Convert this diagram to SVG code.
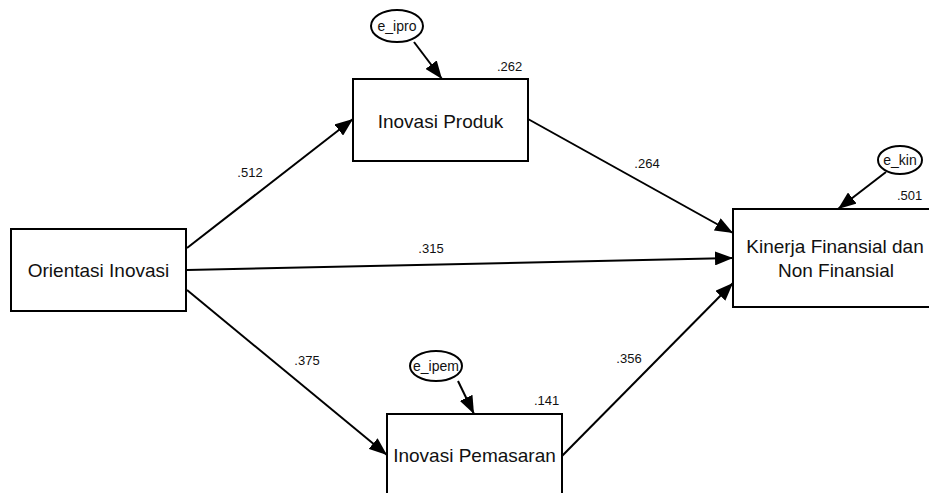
<svg xmlns="http://www.w3.org/2000/svg" width="929" height="493" viewBox="0 0 929 493">
<defs>
<marker id="ah" markerUnits="userSpaceOnUse" markerWidth="20" markerHeight="14" refX="18" refY="7" orient="auto">
<path d="M0,0 L18,7 L0,14 Z" fill="#000"/>
</marker>
<style>
.box{fill:#fff;stroke:#000;stroke-width:2}
.ell{fill:#fff;stroke:#000;stroke-width:2}
.lbl{font-family:"Liberation Sans",Arial,sans-serif;font-size:19px;fill:#111}
.sm{font-family:"Liberation Sans",Arial,sans-serif;font-size:13px;fill:#111}
.el{font-family:"Liberation Sans",Arial,sans-serif;font-size:14px;fill:#111}
.con{stroke:#000;stroke-width:2;fill:none;marker-end:url(#ah)}
</style>
</defs>
<rect width="929" height="493" fill="#fff"/>
<g id="connectors">
<line class="con" x1="187" y1="248" x2="353" y2="119"/>
<line class="con" x1="187" y1="270" x2="733" y2="258"/>
<line class="con" x1="187" y1="290" x2="387" y2="455"/>
<line class="con" x1="528" y1="119" x2="733" y2="233"/>
<line class="con" x1="562" y1="456" x2="733" y2="283"/>
<line class="con" x1="414" y1="42" x2="442" y2="79"/>
<line class="con" x1="458" y1="381" x2="474" y2="414"/>
<line class="con" x1="886" y1="172" x2="838" y2="209"/>
<text class="sm" x="250" y="177" text-anchor="middle">.512</text>
<text class="sm" x="431" y="253" text-anchor="middle">.315</text>
<text class="sm" x="307" y="365" text-anchor="middle">.375</text>
<text class="sm" x="647" y="168" text-anchor="middle">.264</text>
<text class="sm" x="629" y="363" text-anchor="middle">.356</text>
</g>
<g id="orientasi">
<rect class="box" x="11" y="229" width="175" height="82"/>
<text class="lbl" x="98.5" y="277" text-anchor="middle">Orientasi Inovasi</text>
</g>
<g id="produk">
<rect class="box" x="353" y="79" width="175" height="82"/>
<text class="lbl" x="440.5" y="128" text-anchor="middle">Inovasi Produk</text>
<text class="sm" x="497" y="71">.262</text>
</g>
<g id="pemasaran">
<rect class="box" x="387" y="414" width="175" height="83"/>
<text class="lbl" x="474.5" y="462" text-anchor="middle">Inovasi Pemasaran</text>
<text class="sm" x="534" y="405">.141</text>
</g>
<g id="kinerja">
<rect class="box" x="733" y="209" width="206" height="98"/>
<text class="lbl" x="835" y="253" text-anchor="middle">Kinerja Finansial dan</text>
<text class="lbl" x="836" y="277" text-anchor="middle">Non Finansial</text>
<text class="sm" x="897" y="200">.501</text>
</g>
<g id="e_ipro">
<ellipse class="ell" cx="397" cy="26" rx="26" ry="16"/>
<text class="el" x="397" y="31" text-anchor="middle">e_ipro</text>
</g>
<g id="e_ipem">
<ellipse class="ell" cx="436" cy="366" rx="26" ry="15"/>
<text class="el" x="436" y="371" text-anchor="middle">e_ipem</text>
</g>
<g id="e_kin">
<ellipse class="ell" cx="900" cy="160" rx="22" ry="14"/>
<text class="el" x="900" y="165" text-anchor="middle">e_kin</text>
</g>
</svg>
